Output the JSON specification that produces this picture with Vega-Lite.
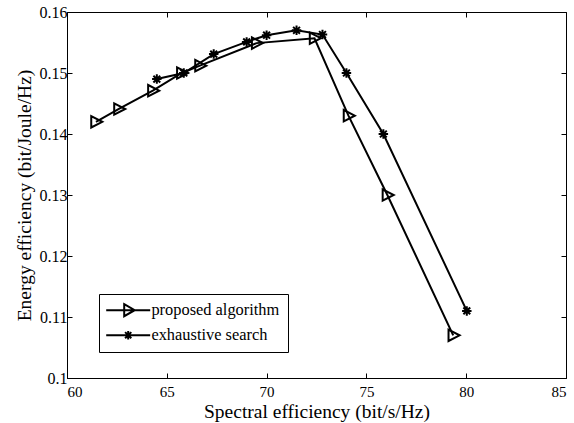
{
  "$schema": "https://vega.github.io/schema/vega-lite/v6.json",
  "width": 499,
  "height": 366,
  "autosize": {"type": "none"},
  "padding": {"left": 67, "top": 12, "right": 8, "bottom": 45},
  "background": "white",
  "config": {
    "view": {"stroke": "black", "strokeWidth": 1},
    "font": "Liberation Serif",
    "axis": {
      "grid": false,
      "domainColor": "black",
      "tickColor": "black",
      "labelColor": "black",
      "titleColor": "black",
      "labelFont": "Liberation Serif",
      "titleFont": "Liberation Serif",
      "labelFontSize": 16,
      "titleFontSize": 19.5,
      "titleFontWeight": "normal",
      "tickSize": -5
    },
    "legend": {
      "labelFont": "Liberation Serif",
      "labelFontSize": 16.4,
      "labelColor": "black"
    }
  },
  "data": {
    "values": [
      {"series": "proposed algorithm", "x": 61.45, "y": 0.142},
      {"series": "proposed algorithm", "x": 62.6, "y": 0.1441},
      {"series": "proposed algorithm", "x": 64.3, "y": 0.1471},
      {"series": "proposed algorithm", "x": 65.75, "y": 0.150},
      {"series": "proposed algorithm", "x": 66.66, "y": 0.1512},
      {"series": "proposed algorithm", "x": 69.5, "y": 0.1549},
      {"series": "proposed algorithm", "x": 72.4, "y": 0.1557},
      {"series": "proposed algorithm", "x": 74.1, "y": 0.143},
      {"series": "proposed algorithm", "x": 76.05, "y": 0.130},
      {"series": "proposed algorithm", "x": 79.35, "y": 0.107},
      {"series": "exhaustive search", "x": 64.5, "y": 0.149},
      {"series": "exhaustive search", "x": 65.85, "y": 0.150},
      {"series": "exhaustive search", "x": 67.35, "y": 0.1531},
      {"series": "exhaustive search", "x": 69.0, "y": 0.1551},
      {"series": "exhaustive search", "x": 70.0, "y": 0.1562},
      {"series": "exhaustive search", "x": 71.5, "y": 0.157},
      {"series": "exhaustive search", "x": 72.8, "y": 0.1563},
      {"series": "exhaustive search", "x": 74.0, "y": 0.150},
      {"series": "exhaustive search", "x": 75.85, "y": 0.140},
      {"series": "exhaustive search", "x": 80.03, "y": 0.111}
    ]
  },
  "layer": [
    {
      "mark": {"type": "line", "color": "black", "strokeWidth": 2},
      "encoding": {
        "x": {"field": "x", "type": "quantitative", "scale": {"domain": [60, 85], "nice": false},
              "axis": {"values": [60, 65, 70, 75, 80, 85], "title": "Spectral efficiency (bit/s/Hz)", "labelFontSize": 15, "labelPadding": 11, "titlePadding": 3}},
        "y": {"field": "y", "type": "quantitative", "scale": {"domain": [0.1, 0.16], "nice": false, "zero": false},
              "axis": {"values": [0.1, 0.11, 0.12, 0.13, 0.14, 0.15, 0.16], "format": ".2~f", "title": "Energy efficiency (bit/Joule/Hz)", "labelPadding": 5, "titlePadding": 5}},
        "detail": {"field": "series"}
      }
    },
    {
      "mark": {"type": "point", "filled": false, "strokeWidth": 2, "opacity": 1},
      "encoding": {
        "x": {"field": "x", "type": "quantitative", "axis": null},
        "y": {"field": "y", "type": "quantitative", "axis": null},
        "shape": {"field": "series", "type": "nominal",
                  "scale": {"domain": ["proposed algorithm", "exhaustive search"],
                            "range": ["M-0.7,-0.85L0.95,0L-0.7,0.85Z", "M-1,0H1M0,-1V1M-0.72,-0.72L0.72,0.72M-0.72,0.72L0.72,-0.72"]},
                  "legend": null},
        "size": {"field": "series", "type": "nominal",
                 "scale": {"domain": ["proposed algorithm", "exhaustive search"], "range": [180, 90]},
                 "legend": null},
        "color": {"value": "black"}
      }
    },
    {
      "transform": [{"filter": "datum.x < 0"}],
      "mark": {"type": "point", "filled": false, "strokeWidth": 2, "opacity": 1},
      "encoding": {
        "x": {"field": "x", "type": "quantitative", "axis": null},
        "y": {"field": "y", "type": "quantitative", "axis": null},
        "shape": {"field": "series", "type": "nominal",
                  "scale": {"domain": ["proposed algorithm", "exhaustive search"],
                            "range": ["M-4.4,0H4.4M-0.8,-1.2L1.3,0L-0.8,1.2Z", "M-4.4,0H4.4M0,-0.85V0.85M-0.62,-0.62L0.62,0.62M-0.62,0.62L0.62,-0.62"]},
                  "legend": {
                    "title": null,
                    "orient": "none",
                    "legendX": 32,
                    "legendY": 282,
                    "symbolSize": 100,
                    "symbolStrokeColor": "black",
                    "symbolFillColor": "transparent",
                    "symbolOpacity": 1,
                    "symbolStrokeWidth": 2,
                    "strokeColor": "black",
                    "fillColor": "white",
                    "padding": 8,
                    "rowPadding": 5,
                    "symbolOffset": 13,
                    "labelOffset": 15
                  }},
        "color": {"value": "black"}
      }
    },
    {
      "transform": [{"filter": "datum.x < 0"}],
      "mark": {"type": "point", "opacity": 0},
      "encoding": {
        "x": {"field": "x", "type": "quantitative",
              "axis": {"orient": "top", "values": [60, 65, 70, 75, 80, 85], "labels": false, "title": null, "domain": false}},
        "y": {"field": "y", "type": "quantitative",
              "axis": {"orient": "right", "values": [0.1, 0.11, 0.12, 0.13, 0.14, 0.15, 0.16], "labels": false, "title": null, "domain": false}}
      }
    }
  ],
  "resolve": {"scale": {"shape": "independent", "size": "independent"}, "axis": {"x": "independent", "y": "independent"}}
}
